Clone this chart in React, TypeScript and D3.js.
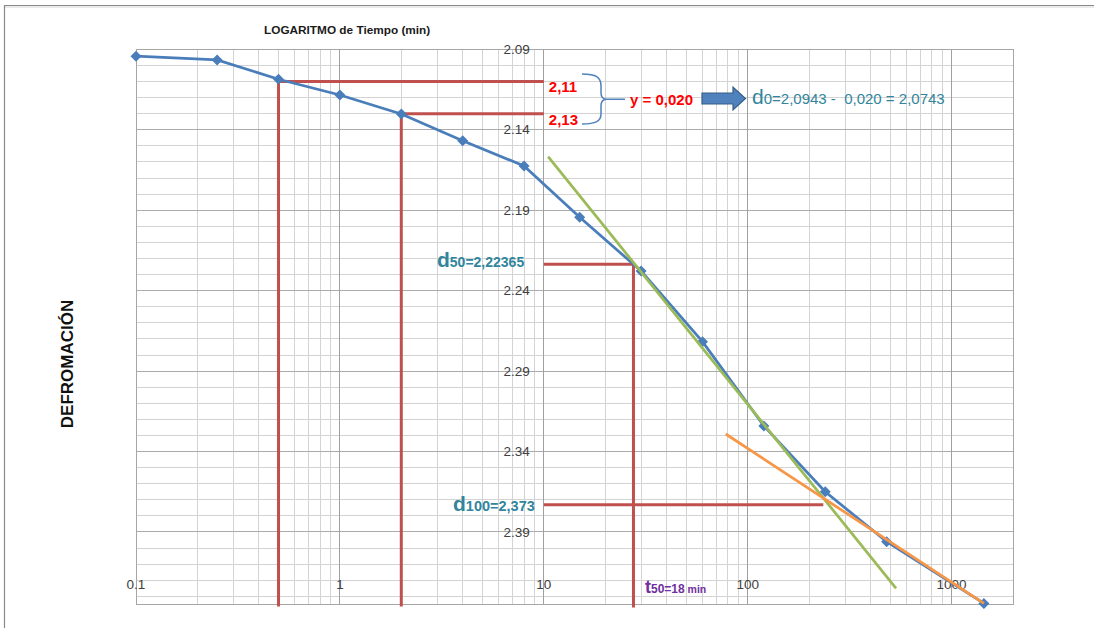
import React from "react";
import * as d3 from "d3";

// Consolidation test readings: elapsed time (min) vs dial deformation
const times = [0.1, 0.25, 0.5, 1, 2, 4, 8, 15, 30, 60, 120, 240, 480, 1440];
const readings = [
  2.0943, 2.0966, 2.1086, 2.1184, 2.1302, 2.1468, 2.1625, 2.1944, 2.2278,
  2.2717, 2.3241, 2.365, 2.396, 2.4344,
];

const xTickValues = [0.1, 1, 10, 100, 1000];
const xTickLabels = ["0.1", "1", "10", "100", "1000"];
const yTickValues = [2.09, 2.14, 2.19, 2.24, 2.29, 2.34, 2.39];

// Readings used for the d0 correction (t and 4t)
const correctionTimes = [0.5, 2];
const correctionValues = [2.11, 2.13];
const correctionLabels = ["2,11", "2,13"];

const d50Value = 2.22365;
const d100Value = 2.373;

// Tangent to the primary consolidation segment and to the secondary segment
const primaryTimes = [10.5, 534];
const primaryValues = [2.1567, 2.425];
const secondaryTimes = [78, 1440];
const secondaryValues = [2.3291, 2.4344];

const W = 1094;
const H = 628;

const BLUE = "#4A7EBB";
const RED = "#C0504D";
const GREEN = "#9BBB59";
const ORANGE = "#F79646";
const TEAL = "#31859C";
const PURPLE = "#7030A0";
const FONT = "'Liberation Sans', Arial, sans-serif";

export default function App() {
  const x = d3.scaleLog().domain([0.1, 2000]).range([136, 1013]);
  const y = d3.scaleLinear().domain([2.09, 2.435]).range([49.3, 604.4]);

  const [x0, x1] = x.range();
  const [y0, y1] = y.range();

  // Grid lines
  const minorX: number[] = [];
  for (let dec = 0.1; dec < 2000; dec *= 10) {
    for (let k = 2; k <= 9; k++) {
      const v = dec * k;
      if (v < 2000) minorX.push(v);
    }
  }
  const minorY: number[] = d3.range(0, 35).map((i) => +(2.09 + i * 0.01).toFixed(2));

  const line = d3
    .line<number>()
    .x((_, i) => x(times[i]))
    .y((d) => y(d));

  // Time at which the curve reaches d50 (interpolated on log time)
  const findTime = (v: number) => {
    for (let i = 0; i < readings.length - 1; i++) {
      if (readings[i] <= v && readings[i + 1] >= v) {
        const f = (v - readings[i]) / (readings[i + 1] - readings[i]);
        const lt = Math.log10(times[i]) + f * (Math.log10(times[i + 1]) - Math.log10(times[i]));
        return Math.pow(10, lt);
      }
    }
    return times[times.length - 1];
  };
  const t50 = findTime(d50Value);

  // Intersection of the two tangents (log time)
  const slope = (ts: number[], vs: number[]) =>
    (vs[1] - vs[0]) / (Math.log10(ts[1]) - Math.log10(ts[0]));
  const s1 = slope(primaryTimes, primaryValues);
  const s2 = slope(secondaryTimes, secondaryValues);
  const l1 = Math.log10(primaryTimes[0]);
  const l2 = Math.log10(secondaryTimes[0]);
  const lInt =
    (secondaryValues[0] - s2 * l2 - primaryValues[0] + s1 * l1) / (s1 - s2);
  const tInt = Math.pow(10, lInt);

  const diamond = (cx: number, cy: number, r = 5.5) =>
    `M${cx},${cy - r}L${cx + r},${cy}L${cx},${cy + r}L${cx - r},${cy}Z`;

  const axisX = x(10);
  const bottomExt = y1 + 2;

  return (
    <svg
      width={W}
      height={H}
      style={{ position: "absolute", left: 0, top: 0, background: "#fff" }}
      fontFamily={FONT}
    >
      <rect x={0} y={0} width={W} height={H} fill="#fff" />
      {/* outer frame */}
      <line x1={4} y1={5.5} x2={W} y2={5.5} stroke="#8a8a8a" strokeWidth={1.2} />
      <line x1={4} y1={7} x2={W} y2={7} stroke="#d8d8d8" strokeWidth={1} />
      <line x1={4.5} y1={5} x2={4.5} y2={H} stroke="#8a8a8a" strokeWidth={1.2} />

      {/* grid */}
      <g shapeRendering="crispEdges">
        {minorX.map((v) => (
          <line key={"mx" + v} x1={x(v)} x2={x(v)} y1={y0} y2={y1} stroke="#d3d3d3" strokeWidth={1} />
        ))}
        {minorY.map((v) => (
          <line key={"my" + v} x1={x0} x2={x1} y1={y(v)} y2={y(v)} stroke="#d3d3d3" strokeWidth={1} />
        ))}
        {yTickValues.map((v) => (
          <line key={"My" + v} x1={x0} x2={x1} y1={y(v)} y2={y(v)} stroke="#ababab" strokeWidth={1} />
        ))}
        {xTickValues.map((v) => (
          <line key={"Mx" + v} x1={x(v)} x2={x(v)} y1={y0} y2={y1} stroke="#a0a0a0" strokeWidth={1} />
        ))}
        <rect x={x0} y={y0} width={x1 - x0} height={y1 - y0} fill="none" stroke="#a6a6a6" strokeWidth={1} />
      </g>

      {/* tick labels */}
      <g fontSize={13.5} fill="#404040">
        {yTickValues.map((v) => (
          <text key={"yl" + v} x={axisX - 14} y={y(v)} dy="0.35em" textAnchor="end">
            {v.toFixed(2)}
          </text>
        ))}
        {xTickValues.map((v, i) => (
          <text key={"xl" + v} x={x(v)} y={589} textAnchor="middle">
            {xTickLabels[i]}
          </text>
        ))}
      </g>

      {/* axis titles */}
      <text x={264} y={34} fontSize={11.8} fontWeight="bold" fill="#1a1a1a">
        LOGARITMO de Tiempo (min)
      </text>
      <text
        transform="translate(73,364) rotate(-90)"
        textAnchor="middle"
        fontSize={17}
        fontWeight="bold"
        fill="#111"
      >
        DEFROMACIÓN
      </text>

      {/* construction lines */}
      <g stroke={RED} strokeWidth={3} fill="none">
        {correctionTimes.map((t, i) => (
          <g key={"c" + t}>
            <line x1={x(t)} x2={axisX} y1={y(correctionValues[i])} y2={y(correctionValues[i])} />
            <line x1={x(t)} x2={x(t)} y1={y(correctionValues[i]) - 1.5} y2={bottomExt} />
          </g>
        ))}
        <line x1={axisX} x2={x(t50)} y1={y(d50Value)} y2={y(d50Value)} />
        <line x1={x(t50)} x2={x(t50)} y1={y(d50Value) - 1.5} y2={y1 + 3} />
        <line x1={axisX} x2={x(tInt)} y1={y(d100Value)} y2={y(d100Value)} />
      </g>

      {/* data series */}
      <path d={line(readings) ?? ""} fill="none" stroke={BLUE} strokeWidth={2.75} />
      {readings.map((v, i) => (
        <path key={"p" + i} d={diamond(x(times[i]), y(v))} fill={BLUE} />
      ))}

      {/* tangents */}
      <line
        x1={x(primaryTimes[0])}
        y1={y(primaryValues[0])}
        x2={x(primaryTimes[1])}
        y2={y(primaryValues[1])}
        stroke={GREEN}
        strokeWidth={2.75}
      />
      <line
        x1={x(secondaryTimes[0])}
        y1={y(secondaryValues[0])}
        x2={x(secondaryTimes[1])}
        y2={y(secondaryValues[1])}
        stroke={ORANGE}
        strokeWidth={2.75}
      />

      {/* correction annotation */}
      {correctionLabels.map((lab, i) => (
        <text
          key={lab}
          x={axisX + 5}
          y={y(correctionValues[i]) + 11}
          fontSize={15}
          fontWeight="bold"
          fill="#FF0000"
        >
          {lab}
        </text>
      ))}
      <path
        d="M582,74 C596,74 601,77 601,86 L601,93 C601,97 603,99.3 607,99.3 L625,99.3 M607,99.3 C603,99.3 601,102 601,106 L601,114 C601,121 596,124 582,124"
        fill="none"
        stroke="#4F81BD"
        strokeWidth={1.5}
      />
      <text x={630} y={105} fontSize={15} fontWeight="bold" fill="#FF0000">
        y = 0,020
      </text>
      <path
        d="M702,93 L733,93 L733,87 L745.5,98.5 L733,110 L733,104 L702,104 Z"
        fill="#4F81BD"
        stroke="#385D8A"
        strokeWidth={1.2}
      />
      <text x={752} y={104} fill={TEAL}>
        <tspan fontSize={21}>d</tspan>
        <tspan fontSize={15}>{"0=2,0943 -\u00A0 0,020 = 2,0743"}</tspan>
      </text>

      {/* d50 / d100 / t50 labels */}
      <text x={437} y={267} fill={TEAL} fontWeight="bold">
        <tspan fontSize={21}>d</tspan>
        <tspan fontSize={14}>50=2,22365</tspan>
      </text>
      <text x={453} y={511} fill={TEAL} fontWeight="bold">
        <tspan fontSize={21}>d</tspan>
        <tspan fontSize={14.5}>100=2,373</tspan>
      </text>
      <text x={645} y={593} fill={PURPLE} fontWeight="bold">
        <tspan fontSize={18}>t</tspan>
        <tspan fontSize={12}>50=18</tspan>
        <tspan fontSize={10.5}>{"\u00A0min"}</tspan>
      </text>
    </svg>
  );
}
